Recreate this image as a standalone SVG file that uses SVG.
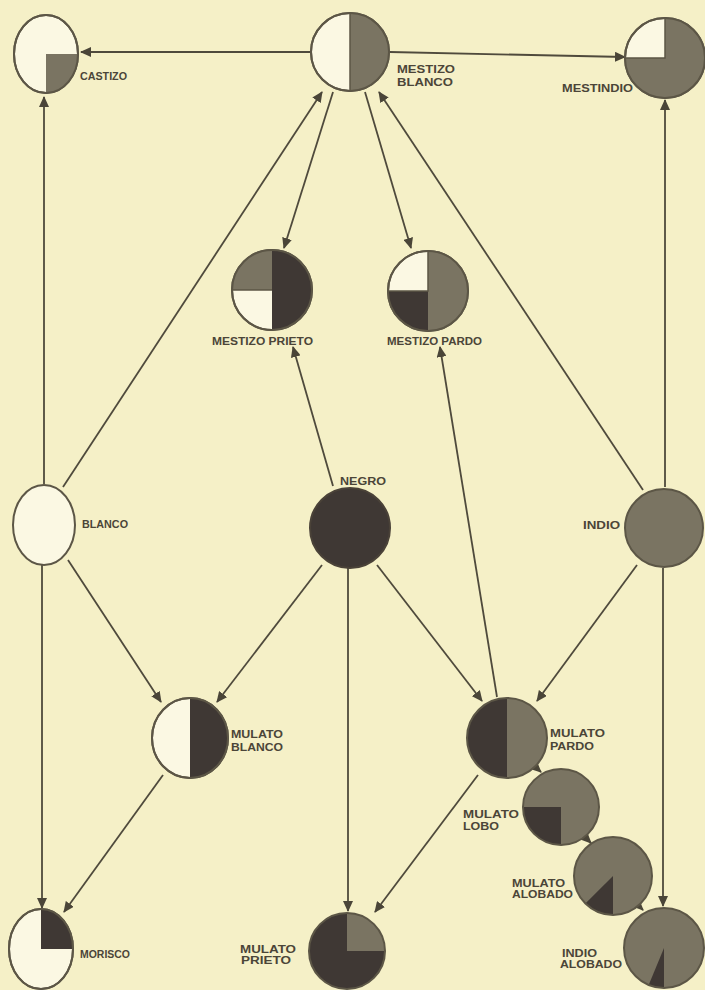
<svg xmlns="http://www.w3.org/2000/svg" width="705" height="990" viewBox="0 0 705 990">
<defs>
<marker id="arr" markerWidth="11" markerHeight="10" refX="10" refY="5" orient="auto" markerUnits="userSpaceOnUse">
<path d="M0,0 L11,5 L0,10 Z" fill="#4a4538"/>
</marker>
<style>
.w{fill:#fbf8e3;stroke:#5c5646;stroke-width:2}
.g{fill:#7a7462}
.d{fill:#3f3834}
.o{fill:none;stroke:#5c5646;stroke-width:2}
.div{stroke:#5c5646;stroke-width:1.5;fill:none}
.c line{stroke:#4f4a3c;stroke-width:1.8;marker-end:url(#arr)}
text{font-family:"Liberation Sans",Arial,sans-serif;font-weight:bold;font-size:11px;fill:#4b4538}
</style>
</defs>
<rect width="705" height="990" fill="#f5f0c7"/>

<g id="connectors" class="c">
<line x1="311" y1="52" x2="81" y2="52"/>
<line x1="390" y1="52" x2="625" y2="57"/>
<line x1="44" y1="484" x2="44" y2="97"/>
<line x1="63" y1="487" x2="322" y2="92"/>
<line x1="643" y1="490" x2="379" y2="92"/>
<line x1="333" y1="92" x2="284" y2="248"/>
<line x1="365" y1="92" x2="411" y2="248"/>
<line x1="665" y1="487" x2="665" y2="100"/>
<line x1="333" y1="486" x2="293" y2="347"/>
<line x1="497" y1="697" x2="440" y2="347"/>
<line x1="68" y1="560" x2="161" y2="702"/>
<line x1="322" y1="565" x2="217" y2="702"/>
<line x1="377" y1="565" x2="482" y2="701"/>
<line x1="637" y1="565" x2="537" y2="701"/>
<line x1="348" y1="568" x2="348" y2="911"/>
<line x1="478" y1="775" x2="375" y2="912"/>
<line x1="42" y1="565" x2="42" y2="908"/>
<line x1="163" y1="775" x2="64" y2="912"/>
<line x1="663" y1="568" x2="663" y2="906"/>
<line x1="530" y1="762" x2="541" y2="772"/>
<line x1="582" y1="834" x2="591" y2="843"/>
<line x1="633" y1="900" x2="643" y2="910"/>
</g>

<g id="castizo">
<ellipse class="w" cx="46" cy="54" rx="32" ry="39"/>
<path class="g" d="M46,54 H78 A32,39 0 0 1 46,93 Z"/>
<ellipse class="o" cx="46" cy="54" rx="32" ry="39"/>
<text x="80" y="80" textLength="47" lengthAdjust="spacingAndGlyphs">CASTIZO</text>
</g>

<g id="mestizo-blanco">
<circle class="w" cx="350" cy="52" r="39"/>
<path class="g" d="M350,13 A39,39 0 0 1 350,91 Z"/>
<line class="div" x1="350" y1="13" x2="350" y2="91"/>
<circle class="o" cx="350" cy="52" r="39"/>
<text x="397" y="73" textLength="58" lengthAdjust="spacingAndGlyphs">MESTIZO</text>
<text x="397" y="86" textLength="56" lengthAdjust="spacingAndGlyphs">BLANCO</text>
</g>

<g id="mestindio">
<circle class="w" cx="665" cy="58" r="40"/>
<path class="g" d="M665,58 V18 A40,40 0 1 1 625,58 Z"/>
<path class="div" d="M665,18 V58 H625"/>
<circle class="o" cx="665" cy="58" r="40"/>
<text x="562" y="92" textLength="71" lengthAdjust="spacingAndGlyphs">MESTINDIO</text>
</g>

<g id="mestizo-prieto">
<circle class="w" cx="272" cy="290" r="40"/>
<path class="g" d="M272,290 H232 A40,40 0 0 1 272,250 Z"/>
<path class="d" d="M272,250 A40,40 0 0 1 272,330 Z"/>
<path class="div" d="M232,290 H272"/>
<circle class="o" cx="272" cy="290" r="40"/>
<text x="212" y="345" textLength="101" lengthAdjust="spacingAndGlyphs">MESTIZO PRIETO</text>
</g>

<g id="mestizo-pardo">
<circle class="w" cx="428" cy="291" r="40"/>
<path class="g" d="M428,251 A40,40 0 0 1 428,331 Z"/>
<path class="d" d="M428,291 V331 A40,40 0 0 1 388,291 Z"/>
<path class="div" d="M428,251 V291 H388"/>
<circle class="o" cx="428" cy="291" r="40"/>
<text x="387" y="345" textLength="95" lengthAdjust="spacingAndGlyphs">MESTIZO PARDO</text>
</g>

<g id="blanco">
<ellipse class="w" cx="44" cy="525" rx="31" ry="40"/>
<text x="82" y="528" textLength="46" lengthAdjust="spacingAndGlyphs">BLANCO</text>
</g>

<g id="negro">
<circle class="d" cx="350" cy="528" r="40" stroke="#4a4238" stroke-width="2"/>
<text x="340" y="485" textLength="46" lengthAdjust="spacingAndGlyphs">NEGRO</text>
</g>

<g id="indio">
<circle class="g" cx="664" cy="528" r="39" stroke="#5c5646" stroke-width="2"/>
<text x="583" y="529" textLength="37" lengthAdjust="spacingAndGlyphs">INDIO</text>
</g>

<g id="mulato-blanco">
<ellipse class="w" cx="190" cy="738" rx="38" ry="40"/>
<path class="d" d="M190,698 A38,40 0 0 1 190,778 Z"/>
<ellipse class="o" cx="190" cy="738" rx="38" ry="40"/>
<text x="231" y="738" textLength="52" lengthAdjust="spacingAndGlyphs">MULATO</text>
<text x="231" y="751" textLength="52" lengthAdjust="spacingAndGlyphs">BLANCO</text>
</g>

<g id="mulato-pardo">
<circle class="g" cx="507" cy="738" r="40"/>
<path class="d" d="M507,778 A40,40 0 0 1 507,698 Z"/>
<circle class="o" cx="507" cy="738" r="40"/>
<text x="550" y="737" textLength="55" lengthAdjust="spacingAndGlyphs">MULATO</text>
<text x="550" y="750" textLength="44" lengthAdjust="spacingAndGlyphs">PARDO</text>
</g>

<g id="mulato-lobo">
<circle class="g" cx="561" cy="807" r="38"/>
<path class="d" d="M561,807 V845 A38,38 0 0 1 523,807 Z"/>
<circle class="o" cx="561" cy="807" r="38"/>
<text x="463" y="818" textLength="56" lengthAdjust="spacingAndGlyphs">MULATO</text>
<text x="463" y="830" textLength="36" lengthAdjust="spacingAndGlyphs">LOBO</text>
</g>

<g id="mulato-alobado">
<circle class="g" cx="613" cy="876" r="39"/>
<path class="d" d="M613,876 V915 A39,39 0 0 1 585.4,903.6 Z"/>
<circle class="o" cx="613" cy="876" r="39"/>
<text x="512" y="887" textLength="53" lengthAdjust="spacingAndGlyphs">MULATO</text>
<text x="512" y="898" textLength="61" lengthAdjust="spacingAndGlyphs">ALOBADO</text>
</g>

<g id="indio-alobado">
<circle class="g" cx="664" cy="948" r="40"/>
<path class="d" d="M664,948 V988 A40,40 0 0 1 648.7,985 Z"/>
<circle class="o" cx="664" cy="948" r="40"/>
<text x="562" y="957" textLength="35" lengthAdjust="spacingAndGlyphs">INDIO</text>
<text x="560" y="968" textLength="62" lengthAdjust="spacingAndGlyphs">ALOBADO</text>
</g>

<g id="morisco">
<ellipse class="w" cx="41" cy="949" rx="32" ry="40"/>
<path class="d" d="M41,949 V909 A32,40 0 0 1 73,949 Z"/>
<ellipse class="o" cx="41" cy="949" rx="32" ry="40"/>
<text x="80" y="958" textLength="50" lengthAdjust="spacingAndGlyphs">MORISCO</text>
</g>

<g id="mulato-prieto">
<circle class="d" cx="347" cy="951" r="38"/>
<path class="g" d="M347,951 V913 A38,38 0 0 1 385,951 Z"/>
<circle class="o" cx="347" cy="951" r="38"/>
<text x="240" y="953" textLength="56" lengthAdjust="spacingAndGlyphs">MULATO</text>
<text x="241" y="964" textLength="50" lengthAdjust="spacingAndGlyphs">PRIETO</text>
</g>
</svg>
